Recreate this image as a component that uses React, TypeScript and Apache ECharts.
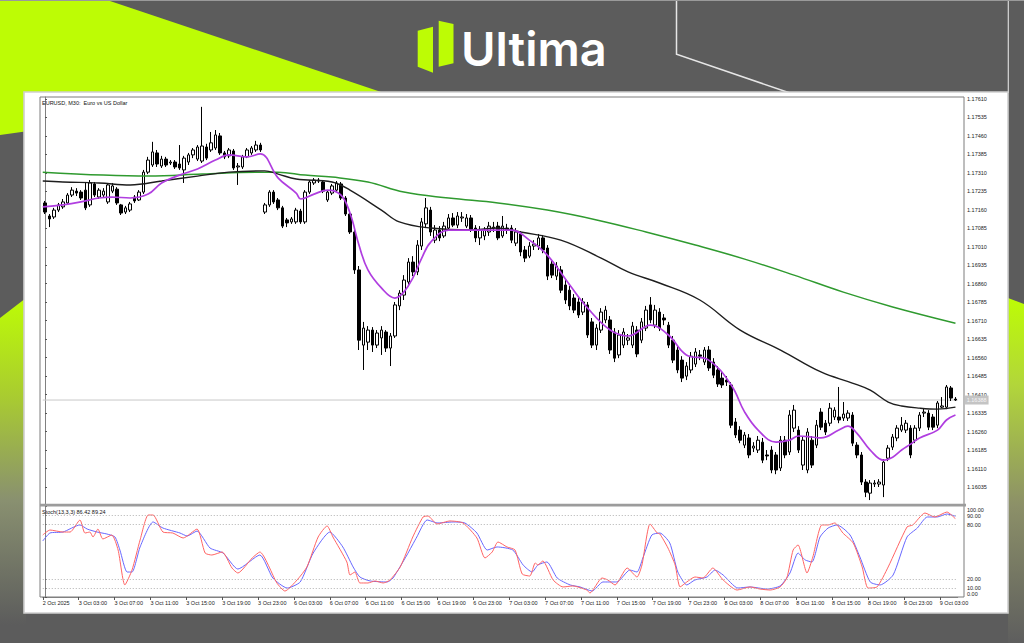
import React, { useEffect, useRef } from "react";
import * as echarts from "echarts";

// ---------- data ----------
const symbolTitle = "EURUSD, M30:  Euro vs US Dollar";
const stochName = "Stoch(13,3,3)";

const tickLabels = [
  "2 Oct 2025", "3 Oct 03:00", "3 Oct 07:00", "3 Oct 11:00", "3 Oct 15:00", "3 Oct 19:00", "3 Oct 23:00",
  "6 Oct 03:00", "6 Oct 07:00", "6 Oct 11:00", "6 Oct 15:00", "6 Oct 19:00", "6 Oct 23:00",
  "7 Oct 03:00", "7 Oct 07:00", "7 Oct 11:00", "7 Oct 15:00", "7 Oct 19:00", "7 Oct 23:00",
  "8 Oct 03:00", "8 Oct 07:00", "8 Oct 11:00", "8 Oct 15:00", "8 Oct 19:00", "8 Oct 23:00",
  "9 Oct 03:00",
];
const barsPerLabel = 8;

const priceTicks = [
  1.16035, 1.1611, 1.16185, 1.1626, 1.16335, 1.1641, 1.16485, 1.1656, 1.16635, 1.1671, 1.16785,
  1.1686, 1.16935, 1.1701, 1.17085, 1.1716, 1.17235, 1.1731, 1.17385, 1.1746, 1.17535, 1.1761,
];
const priceMin = 1.15966;
const priceMax = 1.17618;
const bidPrice = 1.16388;

const stochTicks = [0, 10, 20, 80, 90, 100];
const stochLevels = [10, 20, 80, 90];

// [open, close, low, high]
const candles = [
  [1.17188,1.17151,1.17143,1.17196],[1.17135,1.17123,1.17090,1.17143],[1.17131,1.17159,1.17123,1.17168],
  [1.17159,1.17180,1.17151,1.17188],[1.17172,1.17192,1.17164,1.17204],[1.17188,1.17220,1.17180,1.17228],
  [1.17220,1.17240,1.17212,1.17252],[1.17236,1.17228,1.17216,1.17248],[1.17232,1.17208,1.17200,1.17240],
  [1.17240,1.17168,1.17159,1.17269],[1.17180,1.17269,1.17172,1.17281],[1.17265,1.17220,1.17212,1.17273],
  [1.17212,1.17240,1.17204,1.17248],[1.17220,1.17236,1.17212,1.17248],[1.17192,1.17261,1.17184,1.17269],
  [1.17236,1.17257,1.17228,1.17269],[1.17244,1.17188,1.17180,1.17252],[1.17180,1.17147,1.17139,1.17184],
  [1.17151,1.17168,1.17143,1.17176],[1.17159,1.17184,1.17151,1.17192],[1.17212,1.17196,1.17188,1.17220],
  [1.17200,1.17232,1.17196,1.17240],[1.17232,1.17313,1.17224,1.17322],[1.17313,1.17362,1.17305,1.17375],
  [1.17342,1.17395,1.17334,1.17436],[1.17391,1.17346,1.17334,1.17403],[1.17338,1.17366,1.17330,1.17379],
  [1.17366,1.17342,1.17334,1.17375],[1.17350,1.17354,1.17342,1.17362],[1.17354,1.17334,1.17326,1.17362],
  [1.17346,1.17330,1.17322,1.17423],[1.17322,1.17370,1.17269,1.17379],[1.17354,1.17383,1.17342,1.17391],
  [1.17383,1.17403,1.17370,1.17411],[1.17366,1.17415,1.17358,1.17423],[1.17358,1.17419,1.17350,1.17578],
  [1.17415,1.17370,1.17362,1.17428],[1.17403,1.17432,1.17395,1.17476],[1.17411,1.17464,1.17403,1.17484],
  [1.17460,1.17391,1.17383,1.17472],[1.17391,1.17375,1.17366,1.17399],[1.17379,1.17403,1.17370,1.17411],
  [1.17399,1.17330,1.17322,1.17407],[1.17334,1.17338,1.17261,1.17350],[1.17334,1.17375,1.17326,1.17383],
  [1.17375,1.17403,1.17370,1.17411],[1.17391,1.17411,1.17383,1.17419],[1.17403,1.17423,1.17395,1.17440],
  [1.17423,1.17403,1.17395,1.17432],[1.17151,1.17180,1.17143,1.17188],[1.17180,1.17232,1.17172,1.17240],
  [1.17232,1.17192,1.17184,1.17240],[1.17200,1.17168,1.17159,1.17208],[1.17168,1.17094,1.17086,1.17176],
  [1.17119,1.17107,1.17090,1.17127],[1.17111,1.17123,1.17103,1.17131],[1.17111,1.17159,1.17103,1.17168],
  [1.17155,1.17111,1.17103,1.17164],[1.17111,1.17232,1.17103,1.17240],[1.17232,1.17273,1.17224,1.17281],
  [1.17269,1.17281,1.17261,1.17289],[1.17281,1.17277,1.17269,1.17289],[1.17273,1.17236,1.17228,1.17281],
  [1.17200,1.17232,1.17192,1.17240],[1.17228,1.17257,1.17220,1.17265],[1.17240,1.17269,1.17232,1.17277],
  [1.17265,1.17208,1.17200,1.17273],[1.17208,1.17143,1.17135,1.17216],[1.17143,1.17070,1.17062,1.17151],
  [1.17070,1.16916,1.16900,1.17086],[1.16916,1.16631,1.16591,1.16932],[1.16611,1.16680,1.16510,1.16705],
  [1.16623,1.16672,1.16591,1.16688],[1.16672,1.16611,1.16583,1.16684],[1.16611,1.16660,1.16599,1.16672],
  [1.16640,1.16672,1.16571,1.16688],[1.16664,1.16599,1.16583,1.16672],[1.16599,1.16648,1.16526,1.16660],
  [1.16648,1.16774,1.16640,1.16786],[1.16770,1.16822,1.16753,1.16834],[1.16814,1.16875,1.16794,1.16895],
  [1.16867,1.16948,1.16855,1.16964],[1.16948,1.16908,1.16891,1.16972],[1.16908,1.17017,1.16895,1.17037],
  [1.17013,1.17111,1.16997,1.17127],[1.17103,1.17168,1.17086,1.17208],[1.17159,1.17070,1.17054,1.17172],
  [1.17037,1.17078,1.17025,1.17098],[1.17078,1.17046,1.17033,1.17094],[1.17054,1.17094,1.17046,1.17111],
  [1.17086,1.17127,1.17078,1.17143],[1.17127,1.17098,1.17090,1.17147],[1.17098,1.17135,1.17086,1.17151],
  [1.17127,1.17131,1.17111,1.17151],[1.17094,1.17127,1.17086,1.17143],[1.17127,1.17078,1.17070,1.17139],
  [1.17086,1.17046,1.17029,1.17098],[1.17046,1.17078,1.17017,1.17094],[1.17054,1.17078,1.17037,1.17090],
  [1.17070,1.17094,1.17054,1.17111],[1.17086,1.17090,1.17070,1.17111],[1.17094,1.17046,1.17037,1.17111],
  [1.17054,1.17094,1.17046,1.17135],[1.17086,1.17078,1.17062,1.17103],[1.17086,1.17037,1.17025,1.17098],
  [1.17025,1.17070,1.17013,1.17086],[1.17062,1.16989,1.16972,1.17074],[1.16997,1.16964,1.16948,1.17013],
  [1.16972,1.17013,1.16964,1.17029],[1.17013,1.17021,1.16997,1.17037],[1.17013,1.17046,1.16997,1.17062],
  [1.17046,1.16997,1.16984,1.17058],[1.17005,1.16891,1.16875,1.17017],[1.16940,1.16895,1.16883,1.16956],
  [1.16891,1.16932,1.16875,1.16948],[1.16916,1.16834,1.16822,1.16932],[1.16855,1.16794,1.16778,1.16875],
  [1.16834,1.16770,1.16753,1.16851],[1.16802,1.16753,1.16741,1.16818],[1.16786,1.16733,1.16721,1.16802],
  [1.16745,1.16786,1.16733,1.16802],[1.16774,1.16652,1.16640,1.16786],[1.16705,1.16611,1.16599,1.16721],
  [1.16611,1.16680,1.16591,1.16696],[1.16672,1.16745,1.16660,1.16761],[1.16713,1.16753,1.16700,1.16770],
  [1.16713,1.16591,1.16575,1.16729],[1.16664,1.16558,1.16542,1.16680],[1.16571,1.16652,1.16558,1.16672],
  [1.16611,1.16664,1.16599,1.16680],[1.16631,1.16640,1.16611,1.16656],[1.16611,1.16688,1.16599,1.16705],
  [1.16672,1.16575,1.16562,1.16688],[1.16631,1.16705,1.16619,1.16721],[1.16680,1.16753,1.16668,1.16770],
  [1.16774,1.16713,1.16700,1.16806],[1.16692,1.16753,1.16680,1.16774],[1.16745,1.16680,1.16668,1.16761],
  [1.16721,1.16713,1.16692,1.16737],[1.16692,1.16611,1.16599,1.16705],[1.16631,1.16550,1.16538,1.16648],
  [1.16591,1.16510,1.16497,1.16607],[1.16550,1.16477,1.16461,1.16566],[1.16485,1.16526,1.16469,1.16542],
  [1.16510,1.16566,1.16497,1.16583],[1.16534,1.16583,1.16522,1.16599],[1.16571,1.16566,1.16550,1.16591],
  [1.16542,1.16591,1.16530,1.16603],[1.16591,1.16518,1.16506,1.16607],[1.16542,1.16489,1.16477,1.16558],
  [1.16510,1.16453,1.16441,1.16526],[1.16477,1.16449,1.16437,1.16502],[1.16469,1.16461,1.16445,1.16485],
  [1.16449,1.16286,1.16274,1.16461],[1.16299,1.16246,1.16234,1.16315],[1.16266,1.16225,1.16213,1.16282],
  [1.16205,1.16246,1.16193,1.16258],[1.16234,1.16165,1.16152,1.16250],[1.16193,1.16201,1.16177,1.16217],
  [1.16185,1.16225,1.16173,1.16242],[1.16217,1.16144,1.16132,1.16234],[1.16165,1.16161,1.16144,1.16185],
  [1.16185,1.16104,1.16091,1.16201],[1.16165,1.16104,1.16087,1.16177],[1.16112,1.16225,1.16100,1.16242],
  [1.16225,1.16165,1.16152,1.16242],[1.16177,1.16327,1.16165,1.16347],[1.16274,1.16347,1.16258,1.16368],
  [1.16266,1.16185,1.16173,1.16282],[1.16124,1.16225,1.16104,1.16242],[1.16104,1.16258,1.16091,1.16274],
  [1.16225,1.16124,1.16112,1.16242],[1.16205,1.16286,1.16193,1.16307],[1.16339,1.16278,1.16266,1.16355],
  [1.16294,1.16258,1.16246,1.16307],[1.16294,1.16355,1.16282,1.16376],[1.16319,1.16347,1.16307,1.16359],
  [1.16319,1.16307,1.16294,1.16441],[1.16315,1.16331,1.16303,1.16380],[1.16315,1.16335,1.16303,1.16347],
  [1.16327,1.16213,1.16201,1.16339],[1.16205,1.16165,1.16152,1.16217],[1.16165,1.16055,1.16043,1.16177],
  [1.16055,1.16014,1.15994,1.16067],[1.16010,1.16051,1.15982,1.16063],[1.16047,1.16051,1.16035,1.16063],
  [1.16047,1.16055,1.16035,1.16067],[1.16043,1.16136,1.15994,1.16148],[1.16152,1.16193,1.16140,1.16205],
  [1.16197,1.16238,1.16185,1.16250],[1.16234,1.16274,1.16221,1.16286],[1.16266,1.16286,1.16258,1.16319],
  [1.16266,1.16294,1.16254,1.16307],[1.16274,1.16165,1.16152,1.16286],[1.16225,1.16274,1.16213,1.16286],
  [1.16274,1.16327,1.16262,1.16339],[1.16335,1.16339,1.16319,1.16355],[1.16335,1.16278,1.16266,1.16347],
  [1.16319,1.16278,1.16266,1.16331],[1.16286,1.16376,1.16274,1.16384],[1.16359,1.16364,1.16355,1.16400],
  [1.16359,1.16441,1.16351,1.16449],[1.16437,1.16396,1.16384,1.16445],[1.16392,1.16388,1.16384,1.16400],
];

// moving averages: [bar index, price]
const maShort = [
  [-0.5,1.17172],[4,1.17180],[8,1.17192],[12,1.17208],[15,1.17212],[19,1.17208],[23,1.17224],[26,1.17269],
  [30,1.17301],[34,1.17326],[38,1.17362],[41,1.17383],[45,1.17375],[48,1.17387],[52,1.17289],[56,1.17228],
  [57,1.17204],[60,1.17224],[63,1.17240],[66,1.17220],[68,1.17147],[70,1.17017],[72,1.16916],[75,1.16843],
  [78,1.16802],[80,1.16826],[82,1.16883],[84,1.16964],[86,1.17029],[90,1.17078],[97,1.17078],[104,1.17078],
  [108,1.17037],[112,1.16976],[117,1.16855],[121,1.16761],[126,1.16672],[130,1.16648],[135,1.16692],
  [139,1.16652],[143,1.16571],[148,1.16550],[153,1.16449],[156,1.16339],[159,1.16266],[163,1.16217],
  [166,1.16225],[168,1.16242],[171,1.16238],[173,1.16234],[177,1.16266],[179,1.16282],[181,1.16254],
  [184,1.16185],[187,1.16144],[189,1.16156],[191,1.16185],[193,1.16209],[195,1.16234],[199,1.16266],
  [201,1.16307],[203,1.16327],
];
const maMid = [
  [-0.5,1.17277],[4,1.17273],[12,1.17269],[19,1.17261],[26,1.17277],[34,1.17297],[41,1.17313],[49,1.17318],
  [52,1.17305],[56,1.17285],[64,1.17273],[68,1.17240],[75,1.17159],[79,1.17111],[86,1.17086],[95,1.17078],
  [101,1.17086],[106,1.17070],[115,1.17037],[124,1.16964],[130,1.16908],[137,1.16863],[146,1.16794],
  [155,1.16672],[164,1.16591],[173,1.16502],[180,1.16457],[184,1.16428],[188,1.16380],[191,1.16364],
  [195,1.16355],[199,1.16351],[203,1.16359],
];
const maLong = [
  [-0.5,1.17313],[13,1.17301],[23,1.17297],[35,1.17305],[47,1.17313],[52,1.17313],[58,1.17301],[64,1.17293],
  [72,1.17273],[80,1.17232],[90,1.17208],[101,1.17188],[112,1.17159],[123,1.17119],[134,1.17070],
  [145,1.17017],[156,1.16960],[167,1.16895],[178,1.16826],[189,1.16766],[203,1.16700],
];

// stochastic: [bar index, value]
const stochMain = [
  [-0.5,68.5],[1.1,74],[4,71.8],[5.6,71.8],[7.8,85.1],[8.9,70.7],[10,71.8],[10.7,66.3],[11.8,75.1],[12.9,64.1],
  [14.9,68.5],[16.3,51.9],[17.8,13.3],[19.4,29.8],[21.2,63],[23,90.6],[24.1,90.6],[26.3,71.8],[28.5,70.7],
  [30.8,65.2],[33.9,75.1],[35.7,48.6],[37.2,46.4],[39.5,49.7],[41.7,32],[43,26.5],[46.2,43.1],[47.9,49.7],
  [51.7,15.5],[53.5,6.6],[56.2,18.8],[58.4,33.2],[60.9,66.3],[62.9,78.5],[64.2,66.3],[67.3,38.7],[68,24.3],
  [69.1,27.6],[70.2,15.5],[72,15.5],[73.6,17.7],[75.4,15.5],[76.9,18.8],[79.2,33.2],[82,66.3],[84.3,88.4],
  [85.4,89.5],[87.4,80.7],[90.3,84],[93.2,81.8],[96.3,65.2],[98.1,43.1],[99.7,49.7],[101,60.8],[103,55.3],
  [104.8,51.9],[106.4,25.4],[108.1,23.2],[109.3,37.6],[109.9,35.4],[111,39.8],[113.3,18.8],[115.5,11.1],
  [117.7,12.2],[120.8,7.7],[121.5,4.4],[124.2,21],[125.5,18.8],[127.1,13.3],[129.8,32],[132,22.1],[133.1,35.4],
  [134.9,80.7],[136.5,70.7],[137.1,69.6],[138.9,54.1],[140.5,35.4],[141.6,11.1],[143.1,16.6],[144.9,22.1],
  [146.7,21],[148.9,32],[151.2,18.8],[154.3,7.7],[157.2,11.1],[159.4,8.8],[161.7,7.7],[163.9,11.1],[165.4,21],
  [166.8,51.9],[167.9,57.5],[169.9,26.5],[171.2,44.2],[173.2,79.6],[174.6,79.6],[176.1,81.8],[177.9,70.7],
  [180.2,59.7],[182.2,33.2],[183.5,9.9],[185.5,11.1],[188,33.2],[192.2,77.4],[193.5,79.6],[196.2,92.8],
  [198.4,88.4],[201.1,93.9],[203,86.42],
];
const stochSignal = [
  [-0.5,61.9],[1.1,70.7],[4,71.8],[7.8,79.6],[9.4,75.1],[11.6,71.8],[13.8,69.6],[15.6,66.3],[16.7,51.9],
  [18.3,27.6],[19.4,27.6],[21.2,55.3],[24.1,82.9],[26.3,76.2],[30.1,70.7],[31.7,67.4],[33.9,72.9],[36.8,54.1],
  [39.7,48.6],[43,30.9],[47.9,46.4],[50.8,21],[54,9.9],[56.9,16.6],[59.8,48.6],[63.5,71.8],[66.4,55.3],
  [68.7,33.2],[70.2,22.1],[72.5,17.7],[76.3,16.6],[77.6,21],[80.7,46.4],[82.9,66.3],[85.2,85.1],[87.6,81.8],
  [91,82.9],[93.6,81.8],[96.3,70.7],[98.6,51.9],[100.8,55.3],[104.3,51.9],[106.6,35.4],[108.6,27.6],
  [109.9,35.4],[111.9,38.7],[114.2,21],[117.1,13.3],[119.3,11.1],[122,6.6],[124.4,16.6],[127.5,16.6],
  [130.4,29.8],[132,27.6],[133.3,43.1],[135.3,68.5],[137.1,70.7],[139.3,59.7],[141.1,27.6],[143.1,13.3],
  [144.9,18.8],[147.6,22.1],[149.4,29.8],[151.2,24.3],[154.5,9.9],[157.2,11.1],[161,8.8],[163.9,12.2],
  [166.1,26.5],[167.9,48.6],[169.5,40.9],[171,38.7],[172.8,66.3],[174.6,76.2],[176.6,79.6],[179.5,68.5],
  [181.7,44.2],[184,16.6],[186.2,13.3],[189.1,24.3],[192.2,66.3],[194.5,76.2],[196.7,88.4],[198.9,88.4],
  [201.1,91.7],[203,89.24],
];

// ---------- layout / styles ----------
const W = 1024;
const H = 643;
const PLOT_LEFT = 42.76;
const PLOT_WIDTH = 914.94;
const LIME = "#bdfc05";
const BG = "#5c5c5c";
const FONT = "Liberation Sans, Arial, sans-serif";

export default function App() {
  const ref = useRef<HTMLDivElement>(null);

  useEffect(() => {
    if (!ref.current) return;
    const chart = echarts.init(ref.current, null, { renderer: "svg" });
    const barCount = candles.length;
    const categories = candles.map((_, i) => String(i));
    const labelPositions = tickLabels.map((_, k) => k * barsPerLabel - 0.5);
    const lastMain = stochMain[stochMain.length - 1][1];
    const lastSignal = stochSignal[stochSignal.length - 1][1];
    const bidLine = [[-0.5, bidPrice], [barCount - 0.5, bidPrice]];

    const option: any = {
      animation: false,
      backgroundColor: BG,
      textStyle: { fontFamily: FONT },
      grid: [
        { left: PLOT_LEFT, width: PLOT_WIDTH, top: 97, height: 407 },
        { left: PLOT_LEFT, width: PLOT_WIDTH, top: 506.5, height: 90.5 },
      ],
      xAxis: [
        { type: "category", gridIndex: 0, data: categories, boundaryGap: true, show: false },
        { type: "value", gridIndex: 0, min: -0.5, max: barCount - 0.5, show: false, position: "top" },
        {
          type: "value",
          gridIndex: 1,
          min: -0.5,
          max: barCount - 0.5,
          position: "bottom",
          axisLine: { show: true, lineStyle: { color: "#808080", width: 1 } },
          axisTick: { show: true, customValues: labelPositions, length: 3, lineStyle: { color: "#555" } },
          axisLabel: {
            customValues: labelPositions,
            formatter: (v: number) => tickLabels[Math.round((v + 0.5) / barsPerLabel)] ?? "",
            align: "left",
            fontSize: 5.5,
            color: "#222",
            margin: 3,
            fontFamily: FONT,
          },
          splitLine: { show: false },
        },
      ],
      yAxis: [
        {
          type: "value",
          gridIndex: 0,
          position: "right",
          offset: 6.3,
          min: priceMin,
          max: priceMax,
          axisLine: { show: true, lineStyle: { color: "#808080" } },
          axisTick: { show: true, customValues: priceTicks, length: 2, lineStyle: { color: "#555" } },
          axisLabel: {
            customValues: priceTicks,
            formatter: (v: number) => v.toFixed(5),
            fontSize: 5.5,
            color: "#222",
            margin: 3,
            fontFamily: FONT,
          },
          splitLine: { show: false },
        },
        {
          type: "value",
          gridIndex: 1,
          position: "right",
          offset: 6.3,
          min: 0,
          max: 100,
          axisLine: { show: true, lineStyle: { color: "#808080" } },
          axisTick: { show: true, customValues: stochTicks, length: 2, lineStyle: { color: "#555" } },
          axisLabel: {
            customValues: stochTicks,
            formatter: (v: number) => v.toFixed(2),
            fontSize: 5.5,
            color: "#222",
            margin: 3,
            fontFamily: FONT,
            verticalAlignMinLabel: "bottom",
            verticalAlignMaxLabel: "top",
          },
          splitLine: { show: false },
        },
      ],
      series: [
        {
          type: "line",
          xAxisIndex: 1,
          yAxisIndex: 0,
          data: bidLine,
          showSymbol: false,
          silent: true,
          z: 1,
          lineStyle: { color: "#c8c8c8", width: 1 },
          endLabel: {
            show: true,
            distance: 7,
            formatter: () => bidPrice.toFixed(5),
            backgroundColor: "#c4c4c4",
            color: "#f6f6f6",
            fontSize: 5.5,
            padding: [1.5, 2],
            fontFamily: FONT,
          },
        },
        {
          type: "candlestick",
          xAxisIndex: 0,
          yAxisIndex: 0,
          data: candles,
          barWidth: 3,
          z: 2,
          itemStyle: {
            color: "#ffffff",
            color0: "#000000",
            borderColor: "#000000",
            borderColor0: "#000000",
            borderColorDoji: "#000000",
            borderWidth: 1,
          },
        },
        {
          type: "line",
          xAxisIndex: 1,
          yAxisIndex: 0,
          data: maLong,
          showSymbol: false,
          smooth: 0.4,
          z: 3,
          lineStyle: { color: "#2f9a2f", width: 1.5 },
        },
        {
          type: "line",
          xAxisIndex: 1,
          yAxisIndex: 0,
          data: maMid,
          showSymbol: false,
          smooth: 0.4,
          z: 3,
          lineStyle: { color: "#1e1e1e", width: 1.4 },
        },
        {
          type: "line",
          xAxisIndex: 1,
          yAxisIndex: 0,
          data: maShort,
          showSymbol: false,
          smooth: 0.4,
          z: 4,
          lineStyle: { color: "#b03ee0", width: 1.7 },
        },
        {
          type: "line",
          xAxisIndex: 2,
          yAxisIndex: 1,
          data: stochSignal,
          showSymbol: false,
          smooth: 0.2,
          z: 3,
          lineStyle: { color: "#6767ff", width: 1 },
        },
        {
          type: "line",
          xAxisIndex: 2,
          yAxisIndex: 1,
          data: stochMain,
          showSymbol: false,
          smooth: 0.2,
          z: 4,
          lineStyle: { color: "#ff6464", width: 1 },
          markLine: {
            silent: true,
            symbol: ["none", "none"],
            data: stochLevels.map((v) => ({ yAxis: v })),
            lineStyle: { color: "#b0b0b0", width: 1, type: [1, 2] },
            label: { show: false },
          },
        },
      ],
      graphic: {
        elements: [
          // lime decorations
          { type: "polygon", silent: true, z: -10, shape: { points: [[0, 0], [107, 0], [384, 93], [300, 93], [0, 135]] }, style: { fill: LIME } },
          {
            type: "polygon", silent: true, z: -10,
            shape: { points: [[0, 318], [26, 298], [26, 625], [0, 625]] },
            style: {
              fill: new echarts.graphic.LinearGradient(0, 0, 0, 1, [
                { offset: 0, color: LIME },
                { offset: 0.3, color: "#a9cc30" },
                { offset: 0.62, color: "#899070" },
                { offset: 1, color: BG },
              ]),
            },
          },
          {
            type: "polygon", silent: true, z: -10,
            shape: { points: [[1008, 298], [1024, 304], [1024, 643], [1008, 643]] },
            style: {
              fill: new echarts.graphic.LinearGradient(0, 0, 0, 1, [
                { offset: 0, color: LIME },
                { offset: 0.25, color: "#b2d63a" },
                { offset: 0.6, color: "#8c9068" },
                { offset: 1, color: "#5e5e5e" },
              ]),
            },
          },
          // white lines top right
          { type: "polyline", silent: true, z: -9, shape: { points: [[676.5, 0], [676.5, 54.3], [790, 93]] }, style: { stroke: "#e6e6e6", lineWidth: 1.5, fill: "none" } },
          { type: "line", silent: true, z: -9, shape: { x1: 1008.3, y1: 0, x2: 1008.3, y2: 93 }, style: { stroke: "#d8d8d8", lineWidth: 1.2 } },
          { type: "line", silent: true, z: -9, shape: { x1: 0, y1: 0.5, x2: W, y2: 0.5 }, style: { stroke: "#9a9a9a", lineWidth: 1 } },
          // logo
          { type: "polygon", silent: true, z: -9, shape: { points: [[417.7, 30.7], [433, 26.7], [433, 72.7], [417.7, 66.7]] }, style: { fill: LIME } },
          { type: "polygon", silent: true, z: -9, shape: { points: [[438.7, 20.7], [453.5, 24], [453.5, 63.3], [438.7, 66.7]] }, style: { fill: LIME } },
          {
            type: "text", silent: true, z: -9, x: 461, y: 48.5,
            style: { text: "Ultima", fill: "#ffffff", fontSize: 47, fontWeight: 600, fontFamily: "Inter, 'Open Sans', sans-serif", verticalAlign: "middle", align: "left" },
          },
          // white chart card
          { type: "rect", silent: true, z: -8, shape: { x: 24, y: 92, width: 984, height: 521 }, style: { fill: "#ffffff", stroke: "#cfcfcf", lineWidth: 1.6 } },
          // chart frame
          { type: "rect", silent: true, z: -7, shape: { x: 40, y: 97, width: 924, height: 500 }, style: { fill: "none", stroke: "#7c7c7c", lineWidth: 1 } },
          { type: "rect", silent: true, z: 1, shape: { x: 40, y: 503.8, width: 926, height: 2.6 }, style: { fill: "#9c9c9c" } },
          // headers
          { type: "text", silent: true, z: 6, x: 42, y: 103, style: { text: symbolTitle, fill: "#111", fontSize: 5.5, fontFamily: FONT, verticalAlign: "middle" } },
          {
            type: "text", silent: true, z: 6, x: 42, y: 511.5,
            style: { text: `${stochName} ${lastMain.toFixed(2)} ${lastSignal.toFixed(2)}`, fill: "#111", fontSize: 5.5, fontFamily: FONT, verticalAlign: "middle" },
          },
        ],
      },
    };

    chart.setOption(option);
    return () => chart.dispose();
  }, []);

  return (
    <div
      ref={ref}
      style={{ position: "fixed", left: 0, top: 0, width: W, height: H }}
    />
  );
}
